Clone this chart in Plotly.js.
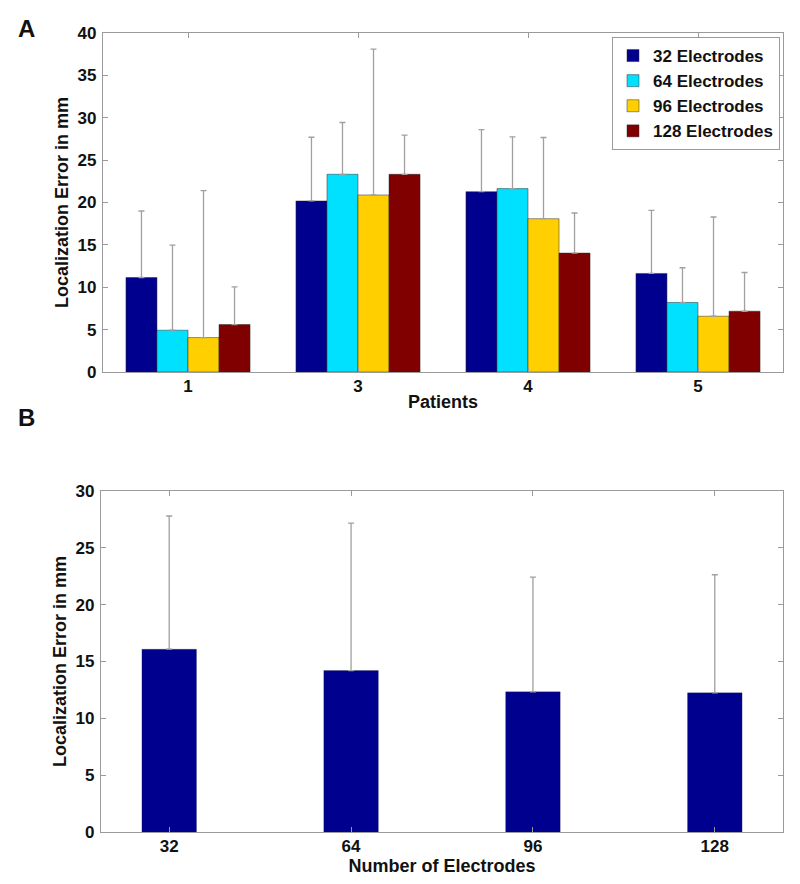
<!DOCTYPE html>
<html>
<head>
<meta charset="utf-8">
<script src="https://cdn.plot.ly/plotly-3.0.1.min.js"></script>
<style>
  html, body { margin: 0; padding: 0; background: #fff; }
  #chart { width: 800px; height: 884px; }
</style>
</head>
<body>
<div id="chart"></div>
<script>
// ---- Data (panel A) ----
const patients = ["1", "3", "4", "5"];
const seriesNames = ["32 Electrodes", "64 Electrodes", "96 Electrodes", "128 Electrodes"];
const mean32  = [11.15, 20.18, 21.28, 11.63];
const sd32    = [7.85, 7.52, 7.32, 7.44];
const mean64  = [4.93, 23.33, 21.64, 8.20];
const sd64    = [10.05, 6.11, 6.10, 4.10];
const mean96  = [4.06, 20.89, 18.09, 6.58];
const sd96    = [17.34, 17.21, 9.58, 11.71];
const mean128 = [5.60, 23.33, 14.03, 7.17];
const sd128   = [4.45, 4.61, 4.73, 4.57];

// ---- Data (panel B) ----
const electrodeCounts = ["32", "64", "96", "128"];
const meanAll = [16.08, 14.20, 12.33, 12.24];
const sdAll   = [11.72, 12.98, 10.09, 10.39];

const colors = ["#00008F", "#00E0FF", "#FFCF00", "#800000"];
const means = [mean32, mean64, mean96, mean128];
const sds = [sd32, sd64, sd96, sd128];

const FONT = "Liberation Sans, Arial, Helvetica, sans-serif";
const AXC = "#9a9a9a";
const ERRC = "#a0a0a0";

const traces = [];
for (let i = 0; i < 4; i++) {
  traces.push({
    type: "bar",
    name: seriesNames[i],
    x: patients,
    y: means[i],
    xaxis: "x", yaxis: "y",
    marker: { color: colors[i], line: { color: "rgba(40,40,40,0.6)", width: 0.8 } },
    error_y: {
      type: "data", symmetric: false,
      array: sds[i], arrayminus: sds[i].map(() => 0),
      color: ERRC, thickness: 1.3, width: 3
    },
    hoverinfo: "x+y"
  });
}
traces.push({
  type: "bar",
  name: "All patients",
  x: electrodeCounts,
  y: meanAll,
  width: 0.3,
  xaxis: "x2", yaxis: "y2",
  showlegend: false,
  marker: { color: colors[0], line: { color: "rgba(40,40,40,0.4)", width: 0.6 } },
  error_y: {
    type: "data", symmetric: false,
    array: sdAll, arrayminus: sdAll.map(() => 0),
    color: ERRC, thickness: 1.3, width: 3
  }
});

const W = 800, H = 884;
const tickFont = { family: FONT, size: 17, color: "#111", weight: "bold" };
const titleFont = { family: FONT, size: 18, color: "#111", weight: "bold" };

function xAx(domain, range, title, standoff) {
  return {
    domain: domain, type: "category", range: range,
    showline: true, linecolor: AXC, linewidth: 1.2, mirror: "ticks",
    ticks: "inside", ticklen: 5, tickcolor: AXC, tickwidth: 1,
    showgrid: false, zeroline: false, automargin: false,
    tickfont: tickFont, ticklabelstandoff: -2,
    title: { text: title, font: titleFont, standoff: standoff }
  };
}
function yAx(domain, range, anchor) {
  return {
    domain: domain, range: range, dtick: 5, anchor: anchor,
    showline: true, linecolor: AXC, linewidth: 1.2, mirror: "ticks",
    ticks: "inside", ticklen: 5, tickcolor: AXC, tickwidth: 1,
    showgrid: false, zeroline: false, automargin: false,
    tickfont: tickFont, ticklabelstandoff: 2,
    title: { text: "Localization Error in mm", font: titleFont, standoff: 4 }
  };
}

const layout = {
  width: W, height: H,
  margin: { l: 0, r: 0, t: 0, b: 0 },
  paper_bgcolor: "#fff", plot_bgcolor: "#fff",
  font: { family: FONT, color: "#111" },
  barmode: "group", bargap: 0.27, bargroupgap: 0,
  showlegend: true,
  legend: {
    x: 780 / W, y: 1 - 37 / H, xanchor: "right", yanchor: "top",
    bgcolor: "#fff", bordercolor: AXC, borderwidth: 1,
    font: { family: FONT, size: 17, color: "#111", weight: "bold" },
    itemwidth: 30, tracegroupgap: 0
  },
  xaxis: Object.assign(xAx([103 / W, 783 / W], [-0.5, 3.5], "Patients", 0), { anchor: "y" }),
  yaxis: yAx([1 - 372 / H, 1 - 33 / H], [0, 40], "x"),
  xaxis2: Object.assign(xAx([101 / W, 783 / W], [-0.375, 3.375], "Number of Electrodes", 0), { anchor: "y2" }),
  yaxis2: yAx([1 - 832 / H, 1 - 491 / H], [0, 30], "x2"),
  annotations: [
    { text: "A", xref: "paper", yref: "paper", x: 16 / W, y: 1 - 29 / H, xanchor: "left", yanchor: "middle",
      showarrow: false, font: { family: FONT, size: 24, color: "#111", weight: "bold" } },
    { text: "B", xref: "paper", yref: "paper", x: 16 / W, y: 1 - 417 / H, xanchor: "left", yanchor: "middle",
      showarrow: false, font: { family: FONT, size: 24, color: "#111", weight: "bold" } }
  ]
};

Plotly.newPlot("chart", traces, layout, { displayModeBar: false, staticPlot: true });
</script>
</body>
</html>
